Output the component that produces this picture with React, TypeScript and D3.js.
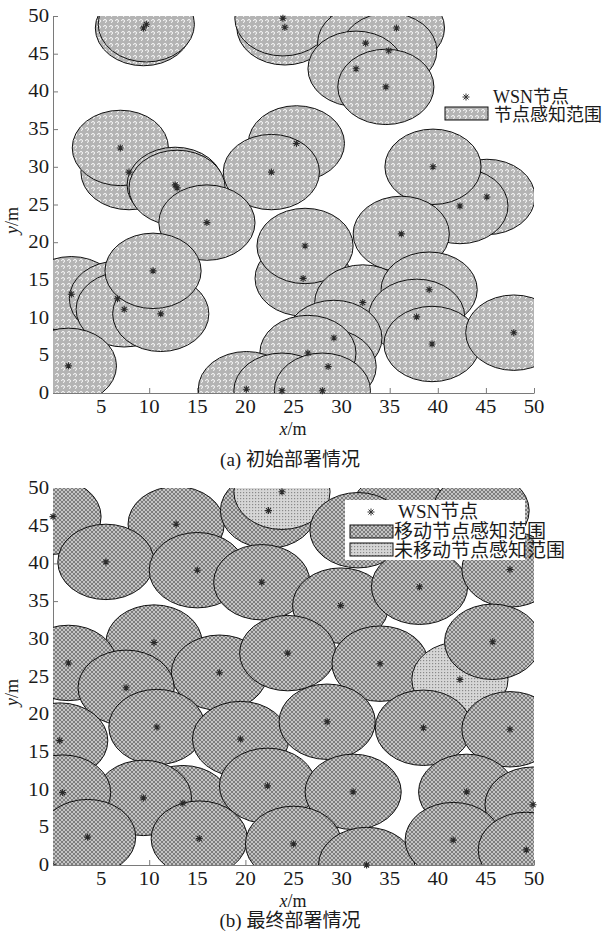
import React, { useEffect, useRef } from 'react';
import * as d3 from 'd3';

// sensing radius of every node (m)
const radius = 5;

const xTicks = [5, 10, 15, 20, 25, 30, 35, 40, 45, 50];
const yTicks = [0, 5, 10, 15, 20, 25, 30, 35, 40, 45, 50];

// (a) initial deployment: node positions
const initX = [
  9.4, 9.7, 24.1, 23.9, 35.7, 32.5, 34.9, 31.5, 34.6, 7.9, 7.0, 12.7, 12.9,
  25.3, 22.7, 45.1, 42.3, 39.5, 16.0, 1.9, 6.7, 7.4, 11.2, 10.4, 1.6, 26.0,
  26.2, 36.2, 32.2, 39.1, 37.8, 39.4, 47.9, 29.2, 28.6, 26.5, 20.1, 23.8, 28.0,
];
const initY = [
  48.4, 48.9, 48.5, 49.7, 48.4, 46.4, 45.4, 43.0, 40.6, 29.3, 32.5, 27.6, 27.2,
  33.1, 29.3, 26.0, 24.8, 30.0, 22.6, 13.1, 12.5, 11.1, 10.5, 16.2, 3.6, 15.2,
  19.5, 21.1, 12.0, 13.7, 10.1, 6.5, 8.0, 7.3, 3.5, 5.3, 0.5, 0.3, 0.3,
];

// (b) final deployment: node positions, 1 = moved, 0 = not moved
const finalX = [
  36.0, 44.5, 0.0, 12.8, 22.4, 23.8, 31.7, 5.5, 15.0, 21.7, 29.9, 38.1, 47.5,
  10.5, 1.6, 17.3, 24.4, 34.0, 42.3, 45.7, 7.6, 0.7, 10.8, 19.5, 28.5, 38.5,
  47.5, 13.5, 9.4, 1.0, 22.3, 31.2, 43.0, 49.9, 3.6, 15.2, 25.0, 32.6, 41.6, 49.2,
];
const finalY = [
  47.0, 47.0, 46.2, 45.2, 47.0, 49.5, 44.4, 40.2, 39.1, 37.5, 34.4, 36.9, 39.2,
  29.5, 26.8, 25.5, 28.1, 26.7, 24.6, 29.6, 23.5, 16.5, 18.3, 16.7, 19.0, 18.2,
  18.0, 8.2, 8.9, 9.6, 10.5, 9.7, 9.7, 8.0, 3.7, 3.5, 2.8, 0.0, 3.3, 2.0,
];
const finalMoved = [
  1, 1, 1, 1, 1, 0, 1, 1, 1, 1, 1, 1, 1,
  1, 1, 1, 1, 1, 0, 1, 1, 1, 1, 1, 1, 1,
  1, 1, 1, 1, 1, 1, 1, 1, 1, 1, 1, 1, 1, 1,
];

const legendA = ['WSN节点', '节点感知范围'];
const legendB = ['WSN节点', '移动节点感知范围', '未移动节点感知范围'];
const captions = ['(a) 初始部署情况', '(b) 最终部署情况'];

const SERIF = '"Liberation Serif", "Noto Sans CJK SC", serif';
const STAR = 'M-3.5,0H3.5M0,-3.5V3.5M-2.5,-2.5L2.5,2.5M-2.5,2.5L2.5,-2.5';

const App = () => {
  const svgRef = useRef<SVGSVGElement>(null);

  useEffect(() => {
    const svg = d3.select(svgRef.current);
    svg.selectAll('*').remove();

    // ---------- fill patterns ----------
    const defs = svg.append('defs');
    const swirl = defs
      .append('pattern')
      .attr('id', 'swirl')
      .attr('patternUnits', 'userSpaceOnUse')
      .attr('width', 6)
      .attr('height', 6);
    swirl.append('rect').attr('width', 6).attr('height', 6).attr('fill', '#b4b4b4');
    swirl
      .append('path')
      .attr('d', 'M1.5,3a1.5,1.5 0 1,1 1.5,1.5')
      .attr('fill', 'none')
      .attr('stroke', '#fff')
      .attr('stroke-width', 0.9);

    const hatch = defs
      .append('pattern')
      .attr('id', 'hatch')
      .attr('patternUnits', 'userSpaceOnUse')
      .attr('width', 4)
      .attr('height', 4);
    hatch.append('rect').attr('width', 4).attr('height', 4).attr('fill', '#c4c4c4');
    hatch
      .append('path')
      .attr('d', 'M0,0L4,4M4,0L0,4')
      .attr('stroke', '#5e5e5e')
      .attr('stroke-width', 0.7);

    const dots = defs
      .append('pattern')
      .attr('id', 'dots')
      .attr('patternUnits', 'userSpaceOnUse')
      .attr('width', 3)
      .attr('height', 3);
    dots.append('rect').attr('width', 3).attr('height', 3).attr('fill', '#d6d6d6');
    dots.append('rect').attr('width', 1.2).attr('height', 1.2).attr('fill', '#8a8a8a');

    // ---------- scales ----------
    const x = d3.scaleLinear().domain([0, 50]).range([53, 534]);

    const panels = [
      { top: 16, bottom: 393, capY: 466, xs: initX, ys: initY, moved: initX.map(() => 1) },
      { top: 488, bottom: 865, capY: 927, xs: finalX, ys: finalY, moved: finalMoved },
    ];

    panels.forEach((p, i) => {
      const y = d3.scaleLinear().domain([0, 50]).range([p.bottom, p.top]);
      const g = svg.append('g');
      const fillA = i === 0 ? 'url(#swirl)' : 'url(#hatch)';

      // axes (drawn below the circles)
      const xAxis = g
        .append('g')
        .attr('transform', `translate(0,${p.bottom})`)
        .call(d3.axisBottom(x).tickValues(xTicks).tickSizeInner(-5).tickSizeOuter(0).tickFormat(() => ''));
      const yAxis = g
        .append('g')
        .attr('transform', `translate(${x(0)},0)`)
        .call(d3.axisLeft(y).tickValues(yTicks).tickSizeInner(-5).tickSizeOuter(0).tickFormat(() => ''));
      [xAxis, yAxis].forEach((a) => {
        a.select('.domain').attr('stroke', '#7a7a7a');
        a.selectAll('.tick line').attr('stroke', '#7a7a7a');
      });

      // tick labels, a little stretched like the original
      g.selectAll('text.xt')
        .data(xTicks)
        .join('text')
        .attr('class', 'xt')
        .attr('transform', (d) => `translate(${x(d)},${p.bottom + 20}) scale(1.15,1)`)
        .attr('text-anchor', 'middle')
        .style('font-family', SERIF)
        .style('font-size', '18px')
        .attr('fill', '#1a1a1a')
        .text((d) => d);
      g.selectAll('text.yt')
        .data(yTicks)
        .join('text')
        .attr('class', 'yt')
        .attr('transform', (d) => `translate(49,${y(d) + 6}) scale(1.15,1)`)
        .attr('text-anchor', 'end')
        .style('font-family', SERIF)
        .style('font-size', '18px')
        .attr('fill', '#1a1a1a')
        .text((d) => d);

      // sensing ranges
      const clipId = `clip${i}`;
      defs
        .append('clipPath')
        .attr('id', clipId)
        .append('rect')
        .attr('x', x(0))
        .attr('y', p.top)
        .attr('width', x(50) - x(0))
        .attr('height', p.bottom - p.top);

      const idx = d3.range(p.xs.length);
      g.append('g')
        .attr('clip-path', `url(#${clipId})`)
        .selectAll('ellipse')
        .data(idx)
        .join('ellipse')
        .attr('cx', (j) => x(p.xs[j]))
        .attr('cy', (j) => y(p.ys[j]))
        .attr('rx', x(radius) - x(0))
        .attr('ry', y(0) - y(radius))
        .attr('fill', (j) => (p.moved[j] ? fillA : 'url(#dots)'))
        .attr('stroke', '#111')
        .attr('stroke-width', 1);

      // nodes
      g.append('g')
        .selectAll('path')
        .data(idx)
        .join('path')
        .attr('transform', (j) => `translate(${x(p.xs[j])},${y(p.ys[j])})`)
        .attr('d', STAR)
        .attr('stroke', '#2a2a2a')
        .attr('stroke-width', 1.1);

      // axis titles
      const xt = g
        .append('text')
        .attr('x', 293)
        .attr('y', p.bottom + 42)
        .attr('text-anchor', 'middle')
        .style('font-family', SERIF)
        .style('font-size', '18px')
        .attr('fill', '#1a1a1a');
      xt.append('tspan').style('font-style', 'italic').text('x');
      xt.append('tspan').text('/m');
      const yt = g
        .append('text')
        .attr('transform', `translate(18,${(p.top + p.bottom) / 2 + 16}) rotate(-90)`)
        .attr('text-anchor', 'middle')
        .style('font-family', SERIF)
        .style('font-size', '18px')
        .attr('fill', '#1a1a1a');
      yt.append('tspan').style('font-style', 'italic').text('y');
      yt.append('tspan').text('/m');

      // caption
      g.append('text')
        .attr('x', 290)
        .attr('y', p.capY)
        .attr('text-anchor', 'middle')
        .style('font-family', SERIF)
        .style('font-size', '19px')
        .attr('fill', '#1a1a1a')
        .text(captions[i]);
    });

    // ---------- legends ----------
    const legText = (lx: number, ly: number, t: string, fs = 18) =>
      svg
        .append('text')
        .attr('x', lx)
        .attr('y', ly)
        .style('font-family', SERIF)
        .style('font-size', `${fs}px`)
        .attr('fill', '#1a1a1a')
        .text(t);
    const legRect = (lx: number, ly: number, fill: string) =>
      svg
        .append('rect')
        .attr('x', lx)
        .attr('y', ly)
        .attr('width', 43)
        .attr('height', 13)
        .attr('fill', fill)
        .attr('stroke', '#111')
        .attr('stroke-width', 1);
    const legStar = (lx: number, ly: number) =>
      svg
        .append('path')
        .attr('transform', `translate(${lx},${ly})`)
        .attr('d', STAR)
        .attr('stroke', '#333')
        .attr('stroke-width', 1);

    // (a)
    legStar(466, 97);
    legText(493, 103, legendA[0]);
    legRect(445, 107, 'url(#swirl)');
    legText(494, 121, legendA[1]);

    // (b), on a white box
    svg.append('rect').attr('x', 345).attr('y', 500).attr('width', 180).attr('height', 60).attr('fill', '#fff');
    legStar(371, 512);
    legText(398, 518, legendB[0], 19);
    legRect(350, 525, 'url(#hatch)');
    legText(394, 538, legendB[1], 19);
    legRect(350, 543, 'url(#dots)');
    legText(394, 557, legendB[2], 19);
  }, []);

  return (
    <svg
      ref={svgRef}
      width={603}
      height={935}
      style={{ position: 'absolute', left: 0, top: 0, background: '#fff' }}
    ></svg>
  );
};

export default App;
